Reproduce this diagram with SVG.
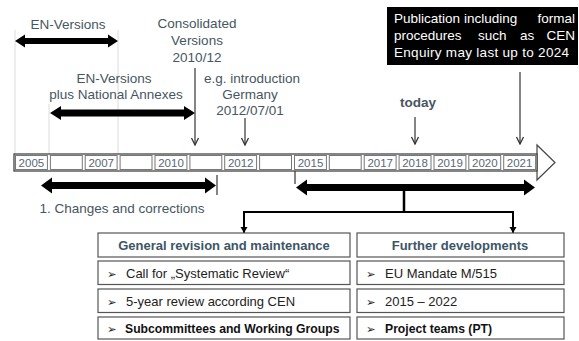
<svg xmlns="http://www.w3.org/2000/svg" width="579" height="341" viewBox="0 0 579 341">
<defs>
<marker id="vh" markerUnits="userSpaceOnUse" markerWidth="10" markerHeight="10" viewBox="-9 -5 10 10" refX="0" refY="0" orient="auto">
<path d="M-7,-3.5 L0,0 L-7,3.5" fill="none" stroke="#333" stroke-width="1.3"/>
</marker>
<marker id="fh" markerUnits="userSpaceOnUse" markerWidth="10" markerHeight="10" viewBox="-8 -5 10 10" refX="0" refY="0" orient="auto">
<path d="M-6,-3.5 L0,0 L-6,3.5 Z" fill="#000"/>
</marker>
</defs>
<style>
.lbl{font-family:"Liberation Sans",Arial,sans-serif;font-size:13.5px;fill:#46565f}
.yr{font-family:"Liberation Sans",Arial,sans-serif;font-size:11.5px;fill:#586875;text-anchor:middle}
.hd{font-family:"Liberation Sans",Arial,sans-serif;font-size:13px;font-weight:bold;fill:#3d5566;text-anchor:middle}
.bt{font-family:"Liberation Sans",Arial,sans-serif;font-size:13px;fill:#222}
.bb{font-family:"Liberation Sans",Arial,sans-serif;font-size:12.2px;font-weight:bold;fill:#111}
.bul{font-family:"DejaVu Sans",sans-serif;font-size:11.5px;fill:#222}
.wt{font-family:"Liberation Sans",Arial,sans-serif;font-size:13.5px;fill:#fff}
.guide{stroke:#dcdcdc;stroke-width:1}
.thin{stroke:#333;stroke-width:1.2;fill:none}
.box{fill:#fff;stroke:#555;stroke-width:1.2}
.cell{fill:#fff;stroke:#777;stroke-width:1}
.dbl{fill:#000}
</style>

<g id="guides">
<line class="guide" x1="15" y1="30" x2="15" y2="154"/>
<line class="guide" x1="118" y1="30" x2="118" y2="154"/>
<line class="guide" x1="49" y1="104" x2="49" y2="154"/>
</g>

<g id="timeline">
<polygon points="537,145 555,162.5 537,180" fill="#fff" stroke="#444" stroke-width="1.2"/>
<rect x="14" y="154" width="523" height="17" fill="#fff" stroke="#444" stroke-width="1.3"/>
<rect class="cell" x="15.5" y="155.5" width="31.9" height="14"/>
<rect class="cell" x="50.4" y="155.5" width="31.9" height="14"/>
<rect class="cell" x="85.2" y="155.5" width="31.9" height="14"/>
<rect class="cell" x="120.1" y="155.5" width="31.9" height="14"/>
<rect class="cell" x="155" y="155.5" width="31.9" height="14"/>
<rect class="cell" x="189.9" y="155.5" width="31.9" height="14"/>
<rect class="cell" x="224.7" y="155.5" width="31.9" height="14"/>
<rect class="cell" x="259.6" y="155.5" width="31.9" height="14"/>
<rect class="cell" x="294.5" y="155.5" width="31.9" height="14"/>
<rect class="cell" x="329.3" y="155.5" width="31.9" height="14"/>
<rect class="cell" x="364.2" y="155.5" width="31.9" height="14"/>
<rect class="cell" x="399.1" y="155.5" width="31.9" height="14"/>
<rect class="cell" x="434" y="155.5" width="31.9" height="14"/>
<rect class="cell" x="468.8" y="155.5" width="31.9" height="14"/>
<rect class="cell" x="503.7" y="155.5" width="31.9" height="14"/>
<text class="yr" x="31.4" y="167">2005</text>
<text class="yr" x="101.2" y="167">2007</text>
<text class="yr" x="171" y="167">2010</text>
<text class="yr" x="240.7" y="167">2012</text>
<text class="yr" x="310.5" y="167">2015</text>
<text class="yr" x="380.2" y="167">2017</text>
<text class="yr" x="415" y="167">2018</text>
<text class="yr" x="450" y="167">2019</text>
<text class="yr" x="484.8" y="167">2020</text>
<text class="yr" x="519.6" y="167">2021</text>
</g>

<g id="en-versions">
<text class="lbl" x="68" y="29" text-anchor="middle">EN-Versions</text>
<polygon class="dbl" points="15,41 25,34.5 25,38 108,38 108,34.5 118,41 108,47.5 108,44 25,44 25,47.5"/>
</g>

<g id="en-versions-na">
<text class="lbl" x="114" y="83" text-anchor="middle">EN-Versions</text>
<text class="lbl" x="116" y="99" text-anchor="middle">plus National Annexes</text>
<polygon class="dbl" points="50,113 61,106 61,109.5 184,109.5 184,106 195,113 184,120 184,116.5 61,116.5 61,120"/>
</g>

<g id="consolidated">
<text class="lbl" x="197" y="28" text-anchor="middle">Consolidated</text>
<text class="lbl" x="197" y="45" text-anchor="middle">Versions</text>
<text class="lbl" x="197" y="62" text-anchor="middle">2010/12</text>
</g>

<g id="introduction">
<text class="lbl" x="252" y="83" text-anchor="middle">e.g. introduction</text>
<text class="lbl" x="250" y="99" text-anchor="middle">Germany</text>
<text class="lbl" x="250" y="115" text-anchor="middle">2012/07/01</text>
</g>

<g id="today">
<text class="lbl" x="418" y="107" text-anchor="middle" font-weight="bold">today</text>
</g>

<g id="publication">
<rect x="387" y="7" width="191" height="58" fill="#000"/>
<text class="wt" y="23"><tspan x="394">Publication</tspan><tspan x="464">including</tspan><tspan x="575" text-anchor="end">formal</tspan></text>
<text class="wt" y="40"><tspan x="394">procedures</tspan><tspan x="478">such</tspan><tspan x="520">as</tspan><tspan x="575" text-anchor="end">CEN</tspan></text>
<text class="wt" x="394" y="57" textLength="175" lengthAdjust="spacing">Enquiry may last up to 2024</text>
</g>

<g id="changes">
<polygon class="dbl" points="41,185.5 52,177.5 52,182 205,182 205,177.5 216,185.5 205,193.5 205,189 52,189 52,193.5"/>
<line x1="217" y1="175" x2="217" y2="195" stroke="#333" stroke-width="1.2"/>
<text class="lbl" x="122" y="213" text-anchor="middle">1. Changes and corrections</text>
</g>

<g id="revision-span">
<line x1="295" y1="171" x2="295" y2="184" stroke="#333" stroke-width="1.2"/>
<polygon class="dbl" points="296,187.5 307,179.5 307,184 524,184 524,179.5 535,187.5 524,195.5 524,191 307,191 307,195.5"/>
</g>

<g id="connectors">
<line class="thin" x1="195" y1="68" x2="195" y2="145" marker-end="url(#vh)"/>
<line class="thin" x1="245" y1="118" x2="245" y2="145" marker-end="url(#vh)"/>
<line class="thin" x1="415" y1="117" x2="415" y2="144" marker-end="url(#vh)"/>
<line class="thin" x1="520" y1="72" x2="520" y2="144" marker-end="url(#vh)"/>
<line x1="404" y1="190" x2="404" y2="212" stroke="#000" stroke-width="2.5"/>
<line x1="243" y1="212" x2="514" y2="212" stroke="#000" stroke-width="2"/>
<line x1="244" y1="211" x2="244" y2="233" stroke="#000" stroke-width="2" marker-end="url(#fh)"/>
<line x1="513" y1="211" x2="513" y2="233" stroke="#000" stroke-width="2" marker-end="url(#fh)"/>
</g>

<g id="general-revision">
<rect class="box" x="98" y="233" width="252" height="24"/>
<text class="hd" x="224" y="250">General revision and maintenance</text>
<rect class="box" x="98" y="261" width="252" height="23.5"/>
<text class="bul" x="107" y="278">➢</text>
<text class="bt" x="126" y="278">Call for „Systematic Review“</text>
<rect class="box" x="98" y="289" width="252" height="23.5"/>
<text class="bul" x="107" y="306">➢</text>
<text class="bt" x="126" y="306">5-year review according CEN</text>
<rect class="box" x="98" y="317" width="252" height="22"/>
<text class="bul" x="107" y="333" font-weight="bold">➢</text>
<text class="bb" x="125" y="333">Subcommittees and Working Groups</text>
</g>

<g id="further-developments">
<rect class="box" x="357" y="233" width="207" height="24"/>
<text class="hd" x="460" y="250">Further developments</text>
<rect class="box" x="357" y="261" width="207" height="23.5"/>
<text class="bul" x="366" y="278">➢</text>
<text class="bt" x="385" y="278">EU Mandate M/515</text>
<rect class="box" x="357" y="289" width="207" height="23.5"/>
<text class="bul" x="366" y="306">➢</text>
<text class="bt" x="385" y="306">2015 – 2022</text>
<rect class="box" x="357" y="317" width="207" height="22"/>
<text class="bul" x="366" y="333" font-weight="bold">➢</text>
<text class="bb" x="385" y="333">Project teams (PT)</text>
</g>
</svg>
